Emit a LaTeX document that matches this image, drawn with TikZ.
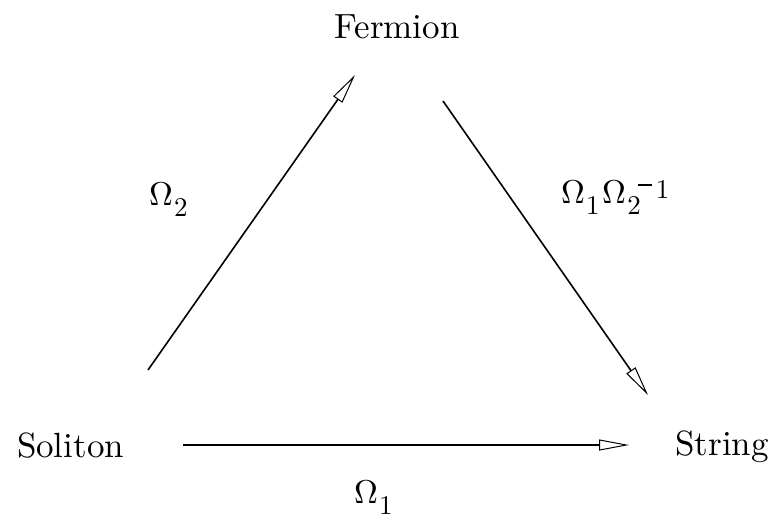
\documentclass[tikz,border=0pt]{standalone}
\usepackage{unicode-math}
\setmainfont{lmroman10-regular}[Extension=.otf]
\setmathfont{latinmodern-math.otf}
\usetikzlibrary{arrows.meta}
\newcommand\sbs{\fontsize{27}{30}\selectfont}
\newcommand\lowsub[1]{\kern1pt\raisebox{-11pt}{\sbs #1}}
\begin{document}
\begin{tikzpicture}[x=1pt,y=-1pt,
  lbl/.style={inner sep=0pt,font=\fontsize{35}{42}\selectfont,anchor=base},
  lblw/.style={inner sep=0pt,font=\fontsize{33}{40}\selectfont,anchor=base west},
  conn/.style={line width=1.6pt,-{Triangle[open,length=30pt,width=11pt,line width=1pt]}}]
\useasboundingbox (0,0) rectangle (773,523);
\node[lbl] (fermion) at (397,38) {Fermion};
\node[lbl] (soliton) at (70.5,457) {Soliton};
\node[lbl] (string) at (722,455) {String};
\node[lblw] (o2) at (149,205) {$\Omega$\lowsub{2}};
\node[lblw] (o12) at (561,203) {$\Omega$\lowsub{1}\kern3pt$\Omega$\lowsub{2}\kern-3pt\raisebox{5pt}{\sbs\rule[12pt]{14pt}{1.6pt}\kern4pt1}};
\node[lblw] (o1) at (354,503) {$\Omega$\lowsub{1}};
\coordinate (a1) at (148,370);
\coordinate (b1) at (355,75);
\coordinate (a2) at (443,101);
\coordinate (b2) at (648,395);
\coordinate (a3) at (183,445);
\coordinate (b3) at (629,445);
\draw[conn] (a1) -- (b1);
\draw[conn] (a2) -- (b2);
\draw[conn] (a3) -- (b3);
\end{tikzpicture}
\end{document}
